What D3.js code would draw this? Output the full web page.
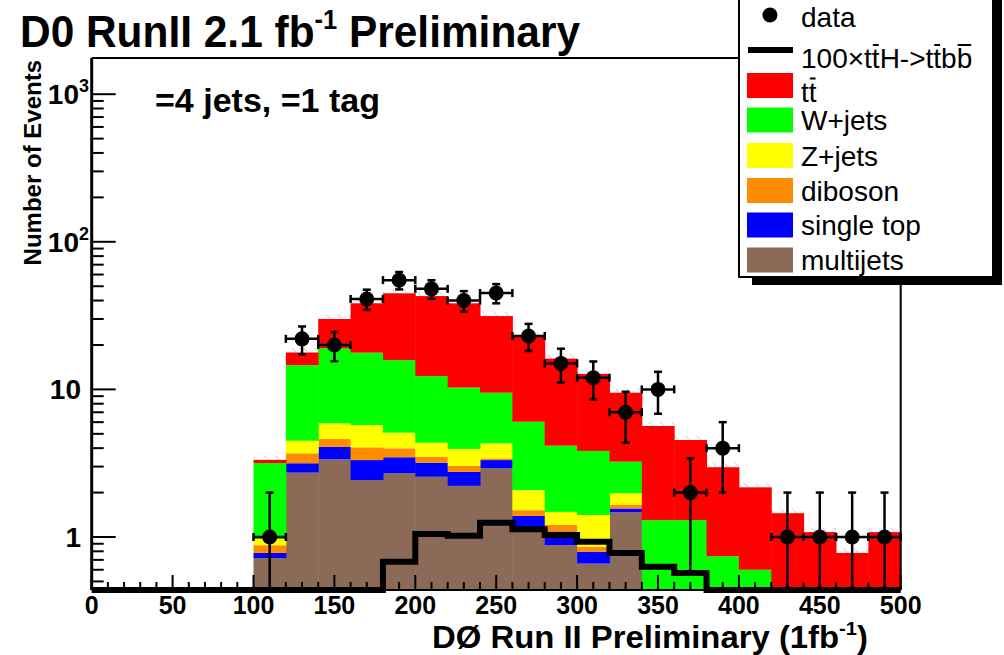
<!DOCTYPE html>
<html>
<head>
<meta charset="utf-8">
<script src="https://cdn.jsdelivr.net/npm/d3@7"></script>
<style>
body { margin: 0; background: #fff; }
svg { display: block; }
text { font-family: "Liberation Sans", Arial, Helvetica, sans-serif; }
</style>
</head>
<body>
<svg id="chart" width="1004" height="655"></svg>
<script>
// bin lower edges, 20 wide
var binLow = [0, 20, 40, 60, 80, 100, 120, 140, 160, 180, 200, 220, 240, 260, 280, 300, 320, 340, 360, 380, 400, 420, 440, 460, 480];
var binWidth = 20;

// stacked backgrounds, bottom to top
var multijets = [0, 0, 0, 0, 0, 0.72, 2.73, 3.36, 2.43, 2.70, 2.56, 2.22, 2.92, 1.15, 0.88, 0.66, 1.47, 0, 0, 0, 0, 0, 0, 0, 0];
var singleTop = [0, 0, 0, 0, 0, 0.06, 0.43, 0.73, 0.89, 0.77, 0.63, 0.55, 0.40, 0.24, 0.21, 0.135, 0.09, 0, 0, 0, 0, 0, 0, 0, 0];
var diboson   = [0, 0, 0, 0, 0, 0.10, 0.53, 0.52, 0.73, 0.52, 0.31, 0.26, 0.09, 0.13, 0.12, 0.065, 0.09, 0, 0, 0, 0, 0, 0, 0, 0];
var zJets     = [0, 0, 0, 0, 0, 0.09, 0.80, 1.28, 1.69, 1.10, 0.85, 0.92, 0.90, 0.56, 0.27, 0.55, 0.33, 0, 0, 0, 0, 0, 0, 0, 0];
var wJets     = [0, 0, 0, 0, 0, 2.20, 10.1, 13.1, 12.0, 10.7, 7.95, 6.35, 5.19, 3.96, 2.68, 2.42, 1.26, 1.30, 1.30, 0.74, 0.60, 0, 0, 0, 0];
var ttbar     = [0, 0, 0, 0, 0, 0.16, 3.2, 11.0, 20.6, 29.0, 30.6, 28.0, 21.9, 16.7, 12.0, 8.9, 6.26, 4.35, 3.24, 2.23, 1.57, 1.45, 1.08, 0.78, 1.08];

// 100 x ttH signal
var ttH100 = [0, 0, 0, 0, 0, 0, 0, 0, 0, 0.68, 1.05, 1.02, 1.25, 1.13, 1.03, 0.93, 0.78, 0.63, 0.57, 0, 0, 0, 0, 0, 0];

// observed events
var dataCounts = [0, 0, 0, 0, 0, 1, 22, 20, 41, 55, 48, 40, 45, 23, 15, 12, 7, 10, 2, 4, 0, 1, 1, 1, 1];

var xTicks = [0, 50, 100, 150, 200, 250, 300, 350, 400, 450, 500];
var yTicks = [1, 10, 100, 1000];

var keys = ["multijets", "singleTop", "diboson", "zJets", "wJets", "ttbar"];
var colors = {multijets: "#8b6a58", singleTop: "#0000ff", diboson: "#ff8c00", zJets: "#ffff00", wJets: "#00ff00", ttbar: "#ff0000"};
var series = {multijets: multijets, singleTop: singleTop, diboson: diboson, zJets: zJets, wJets: wJets, ttbar: ttbar};

var svg = d3.select("#chart");
var frameL = 91.7, frameR = 900.7, frameT = 58, frameB = 590;
var yMin = 0.4375, yMax = 1759;

var x = d3.scaleLinear().domain([0, 500]).range([frameL, frameR]);
var y = d3.scaleLog().domain([yMin, yMax]).range([frameB, frameT]);
function yc(v) { return y(Math.max(v, yMin)); }

var rows = binLow.map(function(b, i) {
	var r = {x0: b};
	keys.forEach(function(k) { r[k] = series[k][i]; });
	return r;
});
var stacked = d3.stack().keys(keys)(rows);

// hatch pattern for the uncertainty band
var defs = svg.append("defs");
var pat = defs.append("pattern").attr("id", "hatch").attr("patternUnits", "userSpaceOnUse")
	.attr("width", 8).attr("height", 8).attr("patternTransform", "rotate(-45)");
pat.append("line").attr("x1", 0).attr("y1", 0).attr("x2", 0).attr("y2", 8)
	.attr("stroke", "#aaa").attr("stroke-width", 1);

var plot = svg.append("g");

// band above the stack top
var totals = rows.map(function(r) { return d3.sum(keys, function(k) { return r[k]; }); });
plot.selectAll(".band").data(rows.filter(function(r, i) { return totals[i] > 0; }))
	.enter().append("rect")
	.attr("class", "band")
	.attr("x", function(d) { return x(d.x0); })
	.attr("width", x(binWidth) - x(0))
	.attr("y", function(d) { return yc(totals[binLow.indexOf(d.x0)] * 1.07); })
	.attr("height", function(d) { var t = totals[binLow.indexOf(d.x0)]; return yc(t) - yc(t * 1.07); })
	.attr("fill", "url(#hatch)");

stacked.forEach(function(layer) {
	plot.selectAll(".s-" + layer.key).data(layer.filter(function(d) { return d[1] - d[0] > 0; }))
		.enter().append("rect")
		.attr("class", "s-" + layer.key)
		.attr("x", function(d) { return x(d.data.x0); })
		.attr("width", x(binWidth) - x(0) + 0.5)
		.attr("y", function(d) { return yc(d[1]); })
		.attr("height", function(d) { return yc(d[0]) - yc(d[1]); })
		.attr("fill", colors[layer.key]);
});

// signal histogram as step line
var stepPts = [];
binLow.forEach(function(b, i) {
	stepPts.push([x(b), yc(ttH100[i])]);
	stepPts.push([x(b + binWidth), yc(ttH100[i])]);
});
plot.append("path")
	.attr("d", d3.line()(stepPts))
	.attr("fill", "none").attr("stroke", "#000").attr("stroke-width", 6)
	.attr("stroke-linejoin", "miter");

// axes
var yAxis = svg.append("g");
var minorY = [];
[0.1, 1, 10, 100, 1000].forEach(function(dec) {
	for (var m = 2; m <= 9; m++) {
		var v = dec * m;
		if (v > yMin && v < yMax) minorY.push(v);
	}
});
yAxis.selectAll(".ymin").data(minorY).enter().append("line")
	.attr("x1", frameL).attr("x2", frameL + 12)
	.attr("y1", function(d) { return y(d); }).attr("y2", function(d) { return y(d); })
	.attr("stroke", "#000").attr("stroke-width", 2);
yAxis.selectAll(".ymaj").data(yTicks).enter().append("line")
	.attr("x1", frameL).attr("x2", frameL + 24)
	.attr("y1", function(d) { return y(d); }).attr("y2", function(d) { return y(d); })
	.attr("stroke", "#000").attr("stroke-width", 2);

yTicks.forEach(function(v) {
	var t = yAxis.append("text")
		.attr("y", y(v) + 10)
		.attr("font-size", 28).attr("font-weight", "bold")
		.attr("text-anchor", "end");
	if (v < 100) {
		t.attr("x", 81).text(String(v));
	} else {
		t.attr("x", 89);
		t.append("tspan").text("10");
		t.append("tspan").attr("font-size", 18).attr("dy", -12).text(String(Math.round(Math.log10(v))));
	}
});

var xAxis = svg.append("g");
var minorX = d3.range(0, 501, 10);
xAxis.selectAll(".xt").data(minorX).enter().append("line")
	.attr("x1", function(d) { return x(d); }).attr("x2", function(d) { return x(d); })
	.attr("y1", frameB).attr("y2", function(d) { return d % 50 === 0 ? frameB - 15 : frameB - 8; })
	.attr("stroke", "#000").attr("stroke-width", 2);
xAxis.selectAll(".xl").data(xTicks).enter().append("text")
	.attr("x", function(d) { return x(d); })
	.attr("y", 614)
	.attr("text-anchor", "middle")
	.attr("font-size", 25).attr("font-weight", "bold")
	.text(function(d) { return d; });

// frame
svg.append("line").attr("x1", frameL).attr("x2", frameL).attr("y1", frameT).attr("y2", frameB)
	.attr("stroke", "#000").attr("stroke-width", 3);
svg.append("line").attr("x1", frameL).attr("x2", frameR).attr("y1", frameT).attr("y2", frameT)
	.attr("stroke", "#000").attr("stroke-width", 2);
svg.append("line").attr("x1", frameR).attr("x2", frameR).attr("y1", frameT).attr("y2", frameB)
	.attr("stroke", "#000").attr("stroke-width", 2);
svg.append("line").attr("x1", frameL).attr("x2", frameR).attr("y1", frameB).attr("y2", frameB)
	.attr("stroke", "#000").attr("stroke-width", 2);

// data points with errors
var pts = binLow.map(function(b, i) { return {x: b + binWidth / 2, n: dataCounts[i]}; })
	.filter(function(d) { return d.n > 0; });
var dg = svg.append("g").attr("stroke", "#000").attr("stroke-width", 2.5);
pts.forEach(function(d) {
	var cx = x(d.x), cy = y(d.n);
	var e = Math.sqrt(d.n);
	var lo = d.n - e, hi = d.n + e;
	var yLo = lo > yMin ? y(lo) : frameB, yHi = y(hi);
	dg.append("line").attr("x1", cx).attr("x2", cx).attr("y1", yLo).attr("y2", yHi);
	dg.append("line").attr("x1", cx - 4).attr("x2", cx + 4).attr("y1", yHi).attr("y2", yHi);
	if (lo > yMin) dg.append("line").attr("x1", cx - 4).attr("x2", cx + 4).attr("y1", yLo).attr("y2", yLo);
	var xl = x(d.x - binWidth / 2), xr = x(d.x + binWidth / 2);
	dg.append("line").attr("x1", xl).attr("x2", xr).attr("y1", cy).attr("y2", cy);
	dg.append("line").attr("x1", xl).attr("x2", xl).attr("y1", cy - 4).attr("y2", cy + 4);
	dg.append("line").attr("x1", xr).attr("x2", xr).attr("y1", cy - 4).attr("y2", cy + 4);
	dg.append("circle").attr("cx", cx).attr("cy", cy).attr("r", 7.5).attr("fill", "#000").attr("stroke", "none");
});

// titles
var title = svg.append("text").attr("x", 20).attr("y", 47)
	.attr("font-size", 45).attr("font-weight", "bold").attr("textLength", 560).attr("lengthAdjust", "spacingAndGlyphs");
title.append("tspan").text("D0 RunII 2.1 fb");
title.append("tspan").attr("font-size", 27).attr("dy", -18).text("-1");
title.append("tspan").attr("dy", 18).text(" Preliminary");

svg.append("text").attr("x", 155).attr("y", 112)
	.attr("font-size", 34).attr("font-weight", "bold")
	.text("=4 jets, =1 tag");

svg.append("text").attr("transform", "translate(41,60) rotate(-90)")
	.attr("text-anchor", "end").attr("font-size", 24).attr("font-weight", "bold")
	.text("Number of Events");

var xt = svg.append("text").attr("x", 432).attr("y", 648)
	.attr("font-size", 31).attr("font-weight", "bold").attr("textLength", 436).attr("lengthAdjust", "spacingAndGlyphs");
xt.append("tspan").text("D\u00d8 Run II Preliminary (1fb");
xt.append("tspan").attr("font-size", 19).attr("dy", -13).text("-1");
xt.append("tspan").attr("dy", 13).text(")");

// legend
var lg = svg.append("g");
lg.append("rect").attr("x", 752).attr("y", -10).attr("width", 250).attr("height", 295).attr("fill", "#000");
lg.append("rect").attr("x", 739).attr("y", -10).attr("width", 254).attr("height", 287)
	.attr("fill", "#fff").attr("stroke", "#000").attr("stroke-width", 2);

var legendItems = [
	{label: "data", type: "marker", cy: 15, dy: 12, bars: []},
	{label: "100\u00d7ttH->ttbb", type: "line", cy: 50, dy: 18, bars: [5, 10, 12]},
	{label: "tt", type: "box", key: "ttbar", cy: 85.5, dy: 16, bars: [1]},
	{label: "W+jets", type: "box", key: "wJets", cy: 120, dy: 10, bars: []},
	{label: "Z+jets", type: "box", key: "zJets", cy: 155.5, dy: 10, bars: []},
	{label: "diboson", type: "box", key: "diboson", cy: 190.5, dy: 10, bars: []},
	{label: "single top", type: "box", key: "singleTop", cy: 225, dy: 10, bars: []},
	{label: "multijets", type: "box", key: "multijets", cy: 260, dy: 10, bars: []}
];
legendItems.forEach(function(it) {
	if (it.type === "marker") {
		lg.append("circle").attr("cx", 770).attr("cy", it.cy).attr("r", 7.5).attr("fill", "#000");
	} else if (it.type === "line") {
		lg.append("line").attr("x1", 748).attr("x2", 793).attr("y1", it.cy).attr("y2", it.cy)
			.attr("stroke", "#000").attr("stroke-width", 6);
	} else {
		lg.append("rect").attr("x", 747).attr("y", it.cy - 12.5).attr("width", 46).attr("height", 25)
			.attr("fill", colors[it.key]);
	}
	var t = lg.append("text").attr("x", 801).attr("y", it.cy + it.dy).attr("font-size", 28).text(it.label);
	it.bars.forEach(function(ci) {
		var ext = t.node().getExtentOfChar(ci);
		lg.append("line").attr("x1", ext.x + 1).attr("x2", ext.x + ext.width - 1)
			.attr("y1", ext.y + 2).attr("y2", ext.y + 2)
			.attr("stroke", "#000").attr("stroke-width", 2);
	});
});
</script>
</body>
</html>
